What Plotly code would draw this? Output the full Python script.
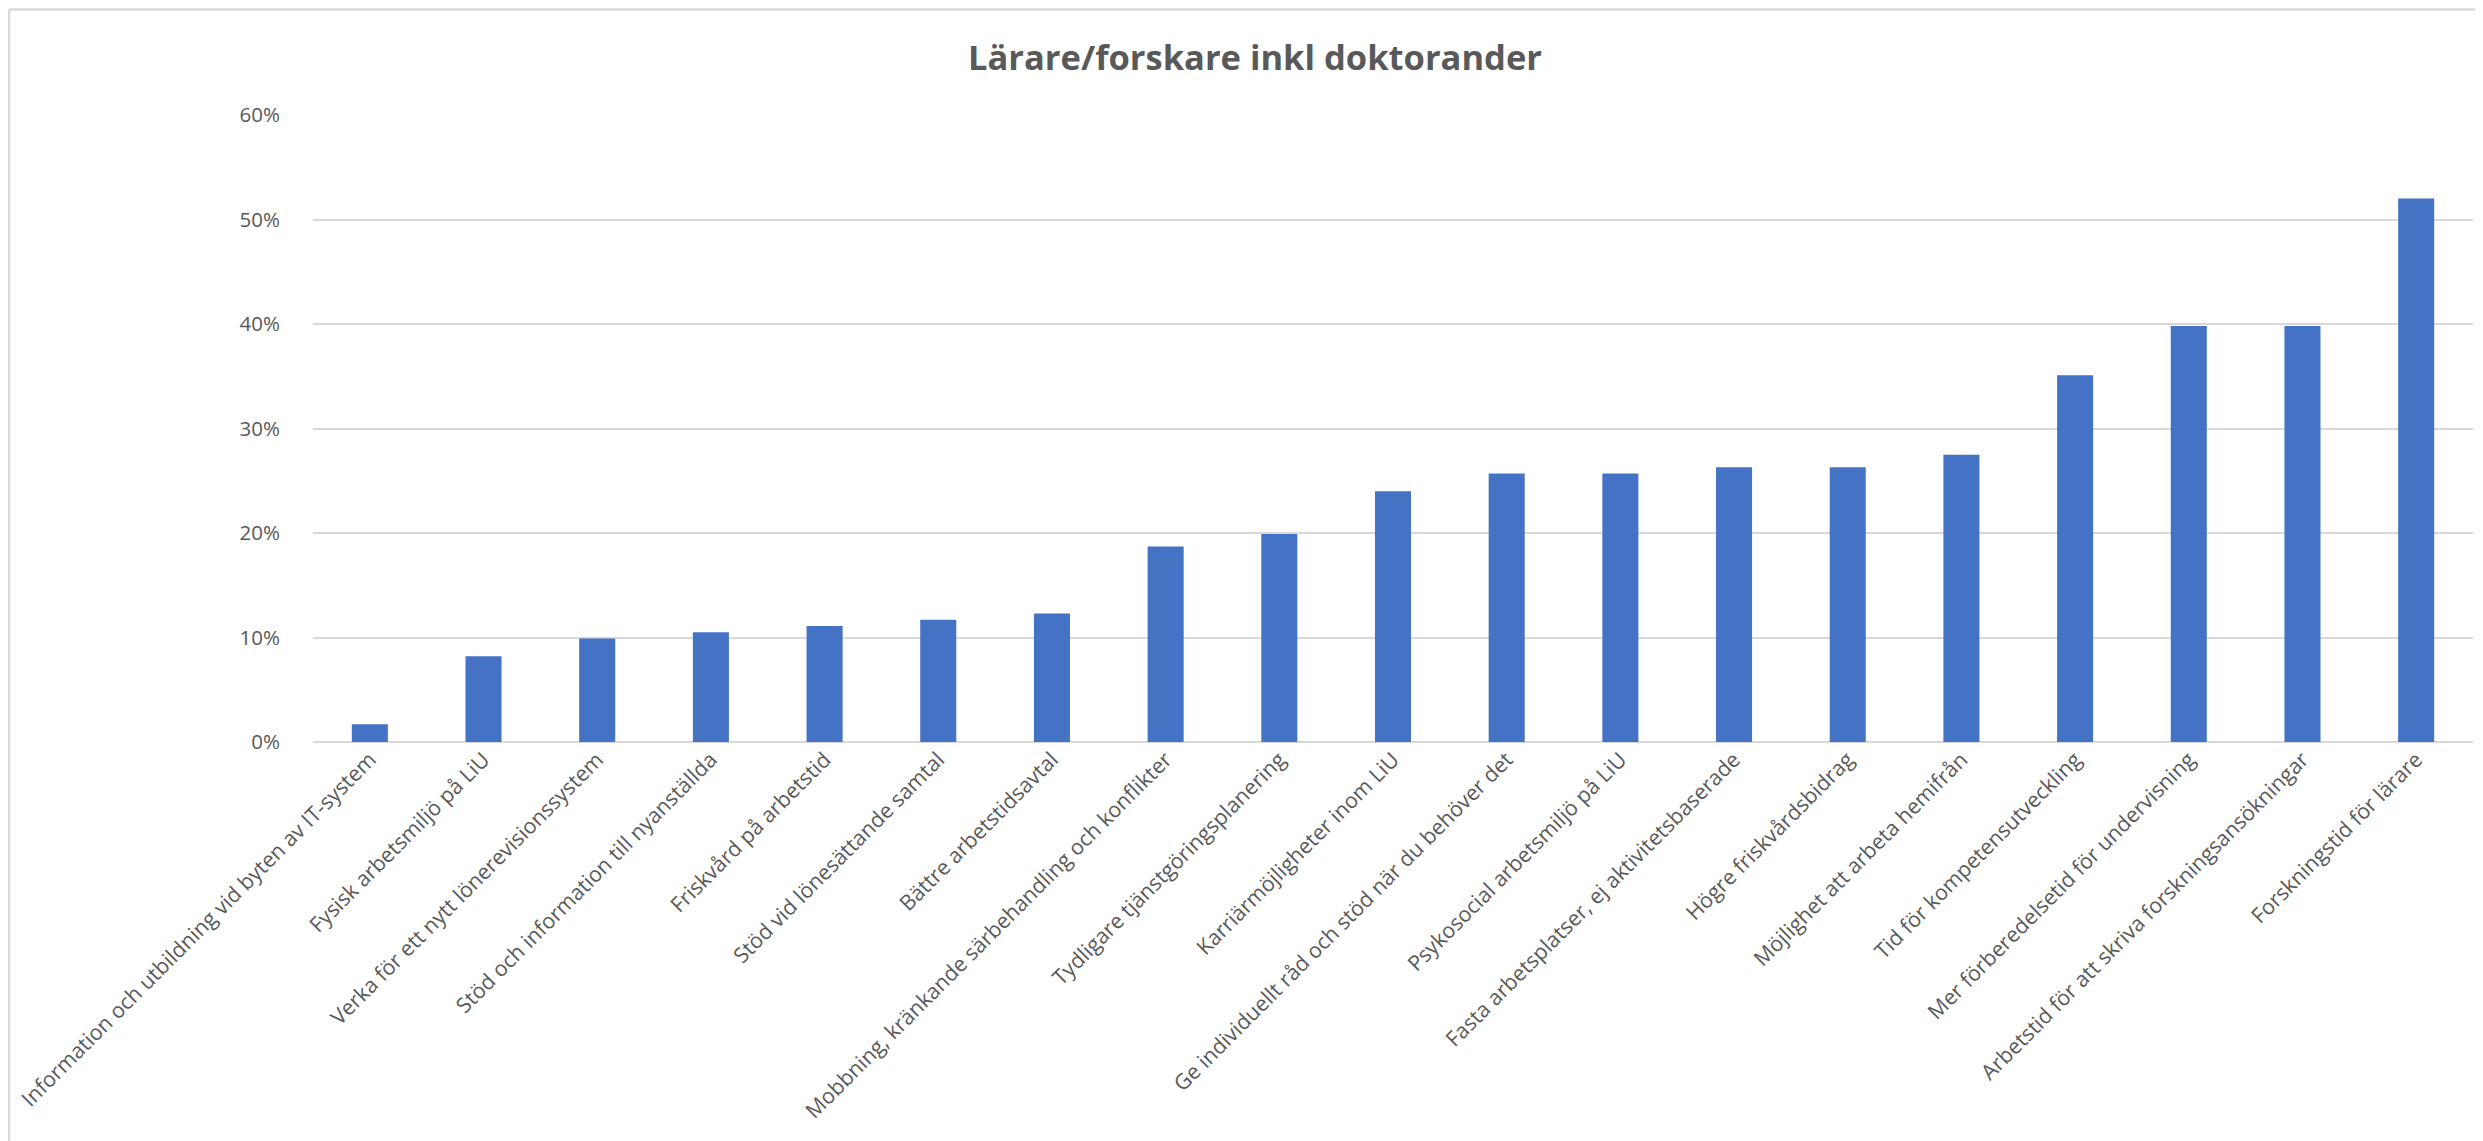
import plotly.graph_objects as go

categories = [
    "Information och utbildning vid byten av IT-system",
    "Fysisk arbetsmiljö på LiU",
    "Verka för ett nytt lönerevisionssystem",
    "Stöd och information till nyanställda",
    "Friskvård på arbetstid",
    "Stöd vid lönesättande samtal",
    "Bättre arbetstidsavtal",
    "Mobbning, kränkande särbehandling och konflikter",
    "Tydligare tjänstgöringsplanering",
    "Karriärmöjligheter inom LiU",
    "Ge individuellt råd och stöd när du behöver det",
    "Psykosocial arbetsmiljö på LiU",
    "Fasta arbetsplatser, ej aktivitetsbaserade",
    "Högre friskvårdsbidrag",
    "Möjlighet att arbeta hemifrån",
    "Tid för kompetensutveckling",
    "Mer förberedelsetid för undervisning",
    "Arbetstid för att skriva forskningsansökningar",
    "Forskningstid för lärare",
]
values = [0.017, 0.082, 0.099, 0.105, 0.111, 0.117, 0.123, 0.187, 0.199,
          0.240, 0.257, 0.257, 0.263, 0.263, 0.275, 0.351, 0.398, 0.398, 0.520]
y_ticks = [0, 0.1, 0.2, 0.3, 0.4, 0.5, 0.6]
y_tick_labels = ["0%", "10%", "20%", "30%", "40%", "50%", "60%"]
title_text = "Lärare/forskare inkl doktorander"

W, H = 2483, 1141
ML, MR, MT, MB = 305, 18, 107, 407
PW, PH = W - ML - MR, H - MT - MB

fig = go.Figure(go.Bar(
    x=categories, y=values,
    marker=dict(color="#4472C4", line=dict(width=0)),
))

def px_x(p):
    return (p - ML) / PW

def px_y(p):
    return (H - MB - p) / PH

# chart-area frame (only top and left edges visible in the reference)
fig.add_shape(type="line", xref="paper", yref="paper",
              x0=px_x(1), x1=px_x(W + 5), y0=px_y(1.5), y1=px_y(1.5),
              line=dict(color="#d9d9d9", width=2.5))
fig.add_shape(type="line", xref="paper", yref="paper",
              x0=px_x(1), x1=px_x(1), y0=px_y(1.5), y1=px_y(H + 5),
              line=dict(color="#d9d9d9", width=2.5))

fig.update_layout(
    width=W, height=H,
    margin=dict(l=ML, r=MR, t=MT, b=MB, autoexpand=False),
    paper_bgcolor="white", plot_bgcolor="white",
    bargap=0.683,
    showlegend=False,
    title=dict(text="<b>" + title_text + "</b>", x=1247 / W, xanchor="center",
               y=1 - 50 / H, yanchor="middle", yref="container",
               font=dict(family="Open Sans", size=34.5, color="#595959")),
    font=dict(family="Open Sans", size=21, color="#595959"),
    xaxis=dict(tickangle=-45, showgrid=False, showline=False, zeroline=False,
               ticks="", tickfont=dict(size=21.3, color="#595959")),
    yaxis=dict(range=[0, 0.6], tickvals=y_ticks, ticktext=y_tick_labels,
               showgrid=True, gridcolor="#d9d9d9", gridwidth=2,
               zeroline=True, zerolinecolor="#d9d9d9", zerolinewidth=2,
               showline=False, ticks="", ticklabelstandoff=32,
               tickfont=dict(size=20.5, color="#595959")),
)

fig.write_html("out.html")
